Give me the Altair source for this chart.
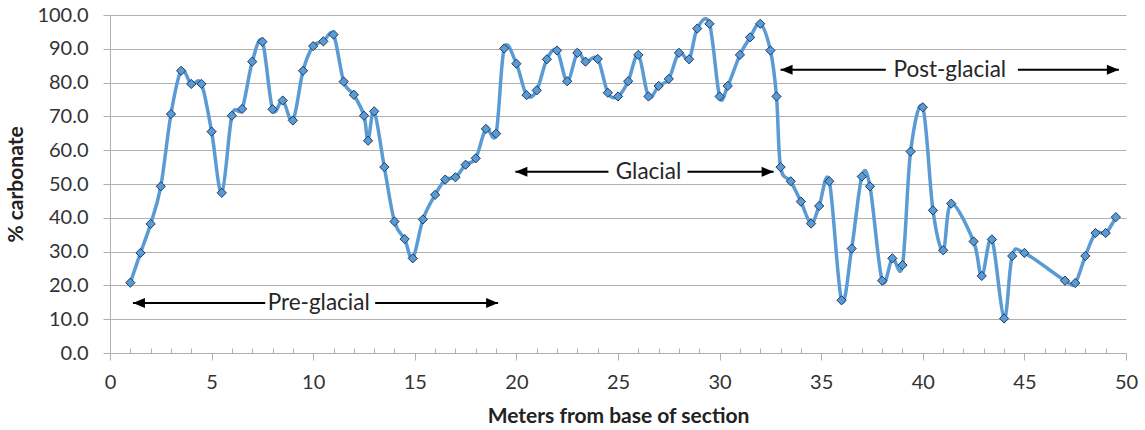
import altair as alt
import pandas as pd

meters = [1.0, 1.5, 2.0, 2.5, 3.0, 3.5, 4.0, 4.5, 5.0, 5.5, 6.0, 6.5, 7.0, 7.5, 8.0, 8.5,
          9.0, 9.5, 10.0, 10.5, 11.0, 11.5, 12.0, 12.5, 12.7, 13.0, 13.5, 14.0, 14.5, 14.9,
          15.4, 16.0, 16.5, 17.0, 17.5, 18.0, 18.5, 19.0, 19.4, 20.0, 20.5, 21.0, 21.5, 22.0,
          22.5, 23.0, 23.4, 24.0, 24.5, 25.0, 25.5, 26.0, 26.5, 27.0, 27.5, 28.0, 28.5, 28.9,
          29.5, 30.0, 30.4, 31.0, 31.5, 32.0, 32.5, 32.8, 33.0, 33.5, 34.0, 34.5, 34.9, 35.4,
          36.0, 36.5, 37.0, 37.4, 38.0, 38.5, 39.0, 39.4, 40.0, 40.5, 41.0, 41.4, 42.5, 42.9,
          43.4, 44.0, 44.4, 45.0, 47.0, 47.5, 48.0, 48.5, 49.0, 49.5]
carbonate = [20.8, 29.6, 38.2, 49.3, 70.7, 83.5, 79.6, 79.6, 65.5, 47.4, 70.2, 72.2, 86.2, 92.1,
             72.1, 74.7, 68.8, 83.5, 90.8, 92.2, 94.2, 80.3, 76.4, 70.2, 62.8, 71.5, 55.0, 38.9,
             33.7, 28.0, 39.5, 46.8, 51.3, 52.0, 55.7, 57.6, 66.3, 64.9, 90.1, 85.6, 76.3, 77.7,
             86.9, 89.5, 80.4, 88.8, 86.2, 87.0, 77.0, 75.9, 80.4, 88.2, 75.9, 79.0, 81.1, 88.8,
             86.9, 96.0, 97.4, 75.9, 79.0, 88.2, 93.4, 97.4, 89.5, 75.9, 55.0, 50.8, 44.8, 38.3,
             43.5, 50.8, 15.6, 30.9, 52.2, 49.3, 21.4, 28.0, 26.0, 59.6, 72.7, 42.2, 30.4, 44.2,
             33.0, 22.8, 33.6, 10.2, 28.7, 29.6, 21.4, 20.7, 28.7, 35.5, 35.5, 40.2]

# Annotations (data coordinates)
labels = ["Pre-glacial", "Glacial", "Post-glacial"]
label_x = [10.27, 26.5, 41.33]
label_y = [14.8, 53.6, 83.8]
arrow_left_tip = [1.13, 19.95, 33.0]
arrow_left_end = [7.64, 24.53, 38.18]
arrow_right_start = [13.05, 28.42, 44.68]
arrow_right_tip = [19.1, 32.66, 49.65]

major_ticks = list(range(0, 51, 5))
minor_ticks = [v for v in range(0, 51) if v % 5 != 0]
y_ticks = list(range(0, 101, 10))

df = pd.DataFrame({"m": meters, "c": carbonate, "i": range(len(meters))})

segs = []
heads = []
for k in range(3):
    segs.append({"x": arrow_left_tip[k], "x2": arrow_left_end[k], "y": label_y[k]})
    segs.append({"x": arrow_right_start[k], "x2": arrow_right_tip[k], "y": label_y[k]})
    heads.append({"x": arrow_left_tip[k], "y": label_y[k], "dir": "L"})
    heads.append({"x": arrow_right_tip[k], "y": label_y[k], "dir": "R"})
seg_df = pd.DataFrame(segs)
head_df = pd.DataFrame(heads)
lab_df = pd.DataFrame({"t": labels, "x": label_x, "y": label_y})

FONT = "Lato"
GRID = "#b0b0b0"
xs = alt.Scale(domain=[0, 50], nice=False, zero=False)
ys = alt.Scale(domain=[0, 100], nice=False)

line = alt.Chart(df).mark_line(
    interpolate="cardinal", color="#5B9BD5", strokeWidth=3.5
).encode(
    x=alt.X("m:Q", scale=xs, axis=alt.Axis(
        orient="bottom", values=major_ticks, title="Meters from base of section", grid=False,
        tickSize=7, tickColor=GRID, domainColor=GRID, labelPadding=12,
        titlePadding=13, labelFlush=False)),
    y=alt.Y("c:Q", scale=ys, axis=alt.Axis(
        orient="left", values=y_ticks, format=".1f", title="% carbonate",
        grid=True, gridColor=GRID, tickSize=7, tickColor=GRID, domainColor=GRID,
        labelPadding=15, titlePadding=10)),
    order="i:Q",
)

pts = alt.Chart(df).mark_point(
    shape="diamond", filled=True, size=85, fill="#5B9BD5", stroke="#1f3a5f",
    strokeWidth=1, opacity=1
).encode(
    x=alt.X("m:Q", scale=xs, axis=alt.Axis(
        orient="bottom", values=minor_ticks, labels=False, domain=False, grid=False,
        title=None, tickSize=5, offset=-5, tickColor=GRID)),
    y=alt.Y("c:Q", scale=ys, axis=None),
)

rules = alt.Chart(seg_df).mark_rule(color="black", strokeWidth=2).encode(
    x=alt.X("x:Q", scale=xs, axis=None),
    x2="x2:Q",
    y=alt.Y("y:Q", scale=ys, axis=None),
)

left_heads = alt.Chart(head_df).transform_filter("datum.dir == 'L'").mark_point(
    shape="M0,0 L1,-0.42 L1,0.42 Z", filled=True, fill="black", size=576, opacity=1, strokeWidth=0
).encode(
    x=alt.X("x:Q", scale=xs, axis=None),
    y=alt.Y("y:Q", scale=ys, axis=None),
)
right_heads = alt.Chart(head_df).transform_filter("datum.dir == 'R'").mark_point(
    shape="M0,0 L-1,-0.42 L-1,0.42 Z", filled=True, fill="black", size=576, opacity=1, strokeWidth=0
).encode(
    x=alt.X("x:Q", scale=xs, axis=None),
    y=alt.Y("y:Q", scale=ys, axis=None),
)

texts = alt.Chart(lab_df).mark_text(
    font=FONT, fontSize=22.5, color="#262626", align="center", baseline="middle"
).encode(
    x=alt.X("x:Q", scale=xs, axis=None),
    y=alt.Y("y:Q", scale=ys, axis=None),
    text="t:N",
)

chart = alt.layer(line, pts, rules, left_heads, right_heads, texts).resolve_axis(
    x="independent", y="independent"
).properties(
    width=1016, height=338,
    autosize=alt.AutoSizeParams(type="none"),
    padding={"left": 110, "top": 15, "right": 19, "bottom": 77},
).configure_view(stroke=None).configure_axis(
    labelFont=FONT, labelFontSize=20, labelColor="#333333",
    titleFont=FONT, titleFontSize=21, titleFontWeight="bold", titleColor="#222222",
)

chart.save("out.html", embed_options={"renderer": "svg", "actions": False})
